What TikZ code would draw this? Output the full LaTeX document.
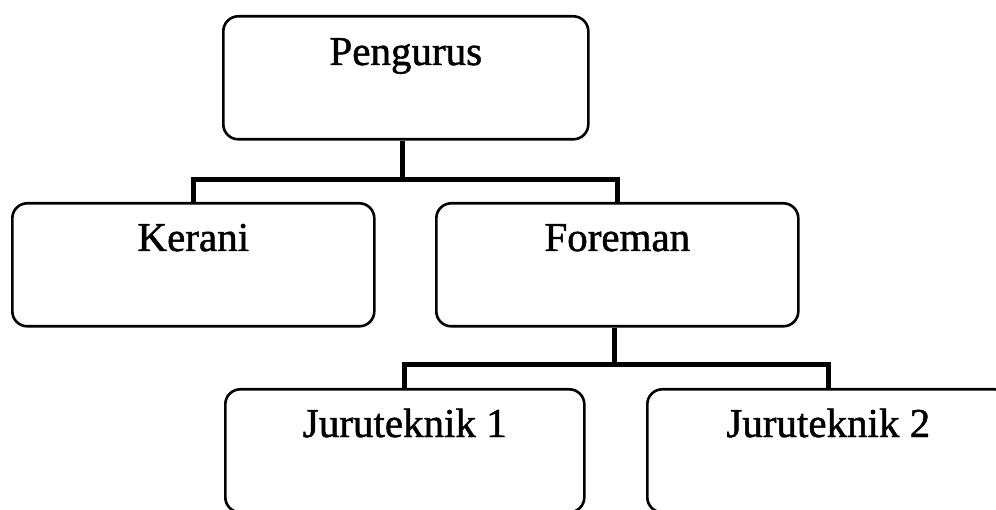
\documentclass[tikz,border=0pt]{standalone}
\usepackage{fontspec}
\setmainfont{Liberation Serif}
\newfontfamily\heavyfont{Liberation Serif}[FakeBold=1.2]
\begin{document}
\begin{tikzpicture}[x=1pt,y=-1pt,
  orgbox/.style={draw=black, line width=2.6pt, rounded corners=15pt, fill=white,
    minimum width=362pt, minimum height=123pt, inner sep=0pt, anchor=north west},
  orglabel/.style={anchor=base, inner sep=0pt, font=\heavyfont\fontsize{41}{48}\selectfont},
  conn/.style={draw=black, line width=5pt}]
\useasboundingbox (0,0) rectangle (996,510);
% boxes
\node[orgbox, minimum width=365pt] (p) at (222,15) {};
\node[orgbox] (k) at (11,202) {};
\node[orgbox] (f) at (435,202) {};
\node[orgbox, minimum width=359pt] (j1) at (224,388) {};
\node[orgbox] (j2) at (646,388) {};
% labels
\node[orglabel] (pl) at ([yshift=-50pt]p.north) {Pengurus};
\node[orglabel] (kl) at ([yshift=-49pt]k.north) {Kerani};
\node[orglabel] (fl) at ([yshift=-49pt]f.north) {Foreman};
\node[orglabel] (j1l) at ([yshift=-49pt]j1.north) {Juruteknik 1};
\node[orglabel] (j2l) at ([yshift=-49pt]j2.north) {Juruteknik 2};
% connectors
\coordinate (b1) at (402,180);
\coordinate (b2) at (614,365);
\draw[conn] (b1 |- p.south) -- (b1);
\draw[conn] (k.north) |- (b1) -| (f.north);
\draw[conn] (b2 |- f.south) -- (b2);
\draw[conn] (j1.north) |- (b2) -| (j2.north);
\end{tikzpicture}
\end{document}
